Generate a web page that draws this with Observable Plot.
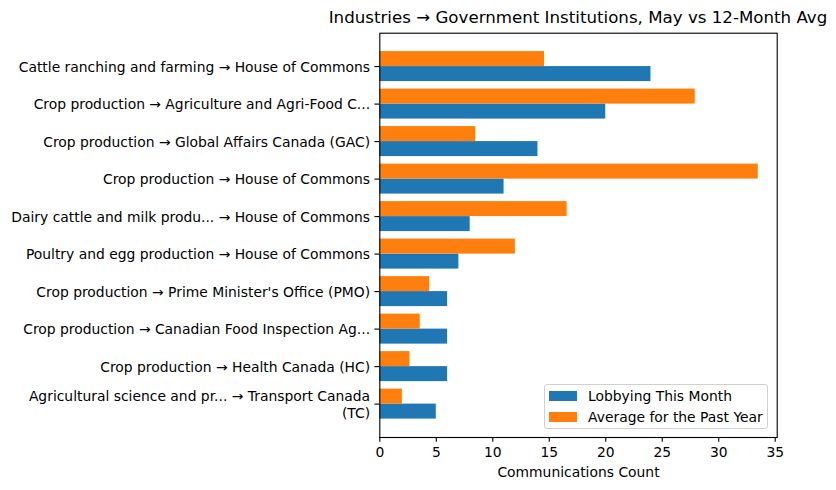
<!DOCTYPE html>
<html>
<head>
<meta charset="utf-8">
<script src="https://cdn.jsdelivr.net/npm/d3@7"></script>
<script src="https://cdn.jsdelivr.net/npm/@observablehq/plot@0.6"></script>
<style>
  html, body { margin: 0; padding: 0; background: white; }
  #wrap { position: relative; width: 836px; height: 490px; font-family: "DejaVu Sans", sans-serif; color: black; }
  #title { position: absolute; left: 278px; width: 600px; top: 10.3px; text-align: center; white-space: nowrap; font-size: 16.67px; line-height: 1; }
  #chart { position: absolute; left: 0; top: 32px; }
  #legend { position: absolute; left: 544px; top: 384px; width: 224px; height: 45px; box-sizing: border-box; border: 1px solid #d0d0d0; border-radius: 3px; background: rgba(255,255,255,0.8); font-size: 13.89px; }
  .lg { position: absolute; left: 0; height: 20px; white-space: nowrap; }
  .sw { position: absolute; left: 4px; width: 28px; height: 10px; }
  .lt { position: absolute; left: 43px; line-height: 1; }
</style>
</head>
<body>
<div id="wrap">
  <div id="title"></div>
  <div id="chart"></div>
  <div id="legend"></div>
</div>
<script>
const title = "Industries → Government Institutions, May vs 12-Month Avg";
const categories = [
  "Cattle ranching and farming → House of Commons",
  "Crop production → Agriculture and Agri-Food C...",
  "Crop production → Global Affairs Canada (GAC)",
  "Crop production → House of Commons",
  "Dairy cattle and milk produ... → House of Commons",
  "Poultry and egg production → House of Commons",
  "Crop production → Prime Minister's Office (PMO)",
  "Crop production → Canadian Food Inspection Ag...",
  "Crop production → Health Canada (HC)",
  "Agricultural science and pr... → Transport Canada\n(TC)"
];
const lobbyingThisMonth = [24, 20, 14, 11, 8, 7, 6, 6, 6, 5];
const averagePastYear = [14.58, 27.92, 8.5, 33.5, 16.58, 12, 4.42, 3.58, 2.67, 2.0];
const seriesNames = ["Lobbying This Month", "Average for the Past Year"];
const seriesColors = ["#1f77b4", "#ff7f0e"];
const xTicks = [0, 5, 10, 15, 20, 25, 30, 35];
const xLabel = "Communications Count";

const rows = categories.map((c, i) => ({i, c, month: lobbyingThisMonth[i], avg: averagePastYear[i]}));

document.getElementById("title").textContent = title;

const plot = Plot.plot({
  width: 836,
  height: 458,
  marginTop: 0.7,
  marginBottom: 53,
  marginLeft: 379.3,
  marginRight: 59.3,
  style: "font-family: 'DejaVu Sans', sans-serif; font-size: 13.89px; color: black; background: white; overflow: visible;",
  x: {domain: [0, 35.175]},
  y: {domain: [9.89, -0.89]},
  marks: [
    Plot.rectX(rows, {x: "month", y1: d => d.i, y2: d => d.i + 0.4, fill: seriesColors[0]}),
    Plot.rectX(rows, {x: "avg", y1: d => d.i - 0.4, y2: d => d.i, fill: seriesColors[1]}),
    Plot.axisX({ticks: xTicks, tickSize: 4.86, tickPadding: 4.86, strokeWidth: 1.1, fontSize: 13.89,
      label: xLabel, labelAnchor: "center", labelArrow: "none", labelOffset: 39}),
    Plot.axisY({ticks: d3.range(categories.length), tickFormat: i => categories[i], tickSize: 4.86, tickPadding: 4.86,
      strokeWidth: 1.1, fontSize: 13.89, lineHeight: 1.18, label: null}),
    Plot.frame({stroke: "black", strokeWidth: 1.1})
  ]
});
document.getElementById("chart").appendChild(plot);

const legend = document.getElementById("legend");
seriesNames.forEach((name, k) => {
  const row = document.createElement("div");
  row.className = "lg";
  row.style.top = (6 + k * 20.7) + "px";
  const sw = document.createElement("div");
  sw.className = "sw";
  sw.style.background = seriesColors[k];
  sw.style.top = "0px";
  const lt = document.createElement("div");
  lt.className = "lt";
  lt.style.top = "-1px";
  lt.textContent = name;
  row.appendChild(sw);
  row.appendChild(lt);
  legend.appendChild(row);
});
</script>
</body>
</html>
